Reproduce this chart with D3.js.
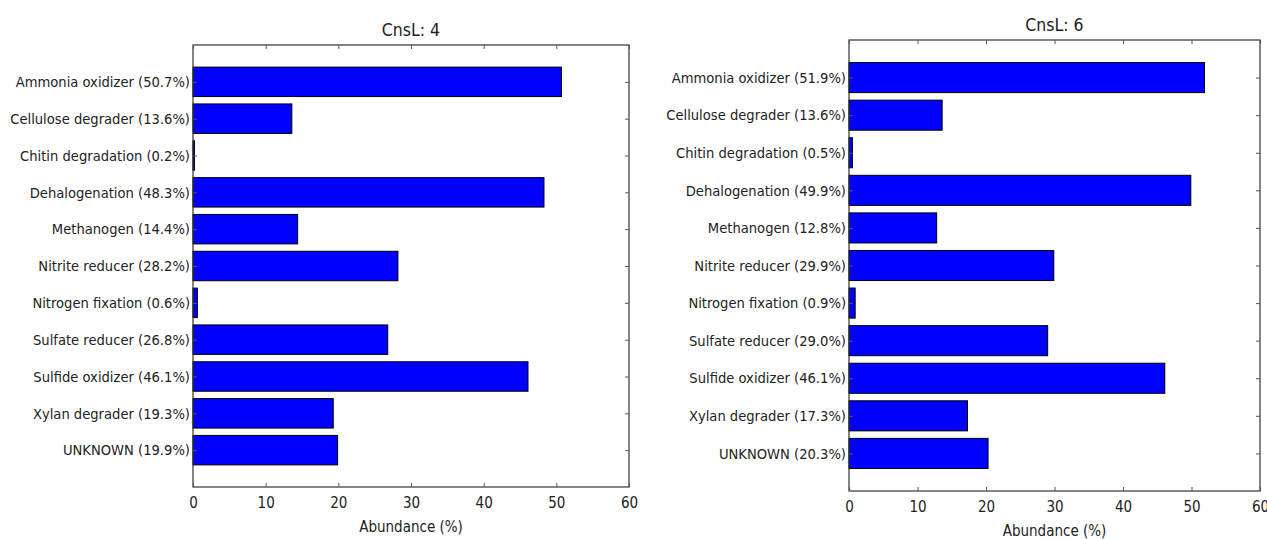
<!DOCTYPE html>
<html>
<head>
<meta charset="utf-8">
<script src="https://cdn.jsdelivr.net/npm/d3@7"></script>
<style>
  body { margin: 0; background: #fff; }
  text { font-family: "DejaVu Sans Condensed", "DejaVu Sans", sans-serif; font-stretch: condensed; fill: #222; }
</style>
</head>
<body>
<div id="chart"></div>
<script>
const categories = ["Ammonia oxidizer", "Cellulose degrader", "Chitin degradation", "Dehalogenation",
  "Methanogen", "Nitrite reducer", "Nitrogen fixation", "Sulfate reducer", "Sulfide oxidizer",
  "Xylan degrader", "UNKNOWN"];
const cnsl4 = [50.7, 13.6, 0.2, 48.3, 14.4, 28.2, 0.6, 26.8, 46.1, 19.3, 19.9];
const cnsl6 = [51.9, 13.6, 0.5, 49.9, 12.8, 29.9, 0.9, 29.0, 46.1, 17.3, 20.3];
const xTicks = [0, 10, 20, 30, 40, 50, 60];

const width = 1267, height = 539;
const svg = d3.select("#chart").append("svg")
  .attr("width", width).attr("height", height);

function panel(title, values, box) {
  const g = svg.append("g");
  const x = d3.scaleLinear([0, 60], [box.left, box.right]);
  // bars sit at 1..11 on a 0..12 axis, like matplotlib barh
  const y = d3.scaleLinear([0, 12], [box.top, box.bottom]);
  const bh = y(0.8) - y(0);

  g.selectAll("rect.bar")
    .data(values)
    .join("rect")
    .attr("class", "bar")
    .attr("x", x(0))
    .attr("y", (d, i) => y(i + 1) - bh / 2)
    .attr("width", d => x(d) - x(0))
    .attr("height", bh)
    .attr("fill", "#0000ff")
    .attr("stroke", "#000")
    .attr("stroke-width", 1);

  // frame
  g.append("rect")
    .attr("x", box.left).attr("y", box.top)
    .attr("width", box.right - box.left).attr("height", box.bottom - box.top)
    .attr("fill", "none").attr("stroke", "#333").attr("stroke-width", 1.2);

  // bottom axis, ticks pointing in
  const xb = g.append("g")
    .attr("transform", `translate(0,${box.bottom})`)
    .call(d3.axisBottom(x).tickValues(xTicks).tickSizeInner(-4).tickSizeOuter(0).tickPadding(10));
  xb.select(".domain").remove();
  xb.selectAll("text").attr("font-size", 15).attr("font-family", null);
  xb.selectAll("line").attr("stroke", "#555");

  const xt = g.append("g")
    .attr("transform", `translate(0,${box.top})`)
    .call(d3.axisTop(x).tickValues(xTicks).tickSizeInner(-4).tickSizeOuter(0).tickFormat(""));
  xt.select(".domain").remove();
  xt.selectAll("line").attr("stroke", "#555");

  // category labels
  const idx = d3.range(1, 12);
  const yl = g.append("g")
    .attr("transform", `translate(${box.left},0)`)
    .call(d3.axisLeft(y).tickValues(idx).tickSizeInner(-4).tickSizeOuter(0).tickPadding(3)
      .tickFormat(d => `${categories[d - 1]} (${values[d - 1].toFixed(1)}%)`));
  yl.select(".domain").remove();
  yl.selectAll("text").attr("font-size", 14.6).attr("font-family", null);
  yl.selectAll("line").attr("stroke", "#555");

  const yr = g.append("g")
    .attr("transform", `translate(${box.right},0)`)
    .call(d3.axisRight(y).tickValues(idx).tickSizeInner(-4).tickSizeOuter(0).tickFormat(""));
  yr.select(".domain").remove();
  yr.selectAll("line").attr("stroke", "#555");

  g.append("text")
    .attr("x", (box.left + box.right) / 2)
    .attr("y", box.top - 9)
    .attr("text-anchor", "middle")
    .attr("font-size", 17.5)
    .text(title);

  g.append("text")
    .attr("x", (box.left + box.right) / 2)
    .attr("y", box.bottom + 45)
    .attr("text-anchor", "middle")
    .attr("font-size", 15)
    .text("Abundance (%)");
}

panel("CnsL: 4", cnsl4, {left: 193, right: 629, top: 45, bottom: 487});
panel("CnsL: 6", cnsl6, {left: 849, right: 1260, top: 40, bottom: 491});
</script>
</body>
</html>
